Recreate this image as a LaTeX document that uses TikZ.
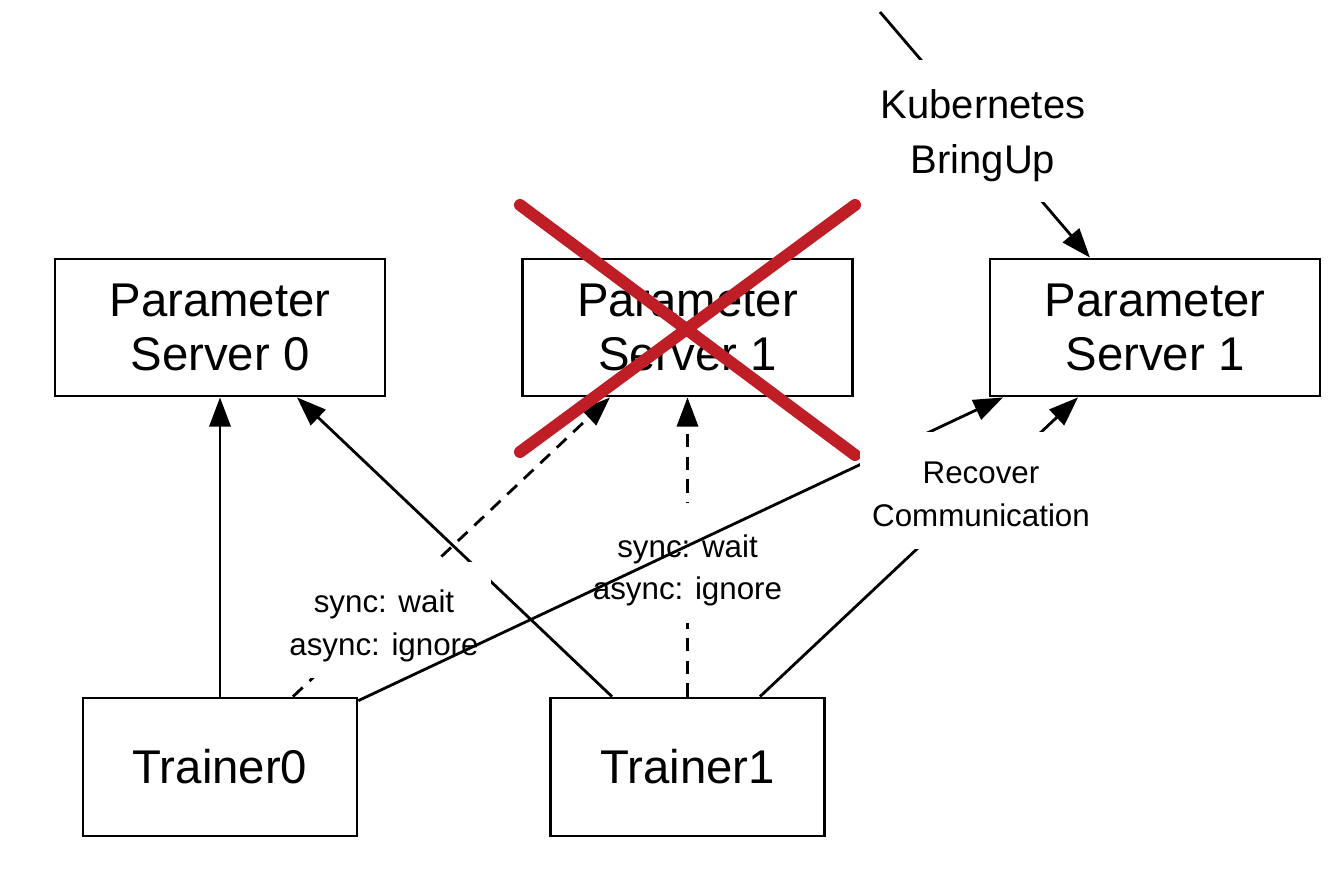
\documentclass[tikz,border=0pt]{standalone}
\usepackage{fontspec}
\setmainfont{Liberation Sans}
\usetikzlibrary{arrows.meta,calc}
\definecolor{crossred}{RGB}{192,30,38}
\begin{document}
\begin{tikzpicture}[x=0.75pt,y=-0.75pt,
  box/.style={draw,line width=2.1pt,inner sep=0pt,minimum width=247.5pt,minimum height=102.75pt,align=center,font=\fontsize{35.5}{41}\selectfont},
  tbox/.style={box,minimum width=205.5pt,minimum height=103.5pt},
  lab/.style={fill=white,inner xsep=9pt,inner ysep=0pt,align=center,font=\fontsize{23.5}{32}\selectfont},
  conn/.style={line width=2.1pt,-{Triangle[length=22pt,width=16pt]}},
  dconn/.style={conn,dash pattern=on 10pt off 7pt},
]
\useasboundingbox (0,0) rectangle (1332,892);
\node[box] (PS0) at (220,327.5) {Parameter\\Server 0};
\node[box] (PS1x) at (687.5,327.5) {Parameter\\Server 1};
\node[box] (PS1) at (1155,327.5) {Parameter\\Server 1};
\node[tbox] (T0) at (220,767) {Trainer0};
\node[tbox] (T1) at (687.5,767) {Trainer1};
\draw[conn] (T0.north) -- (PS0.south);
\draw[conn] ($(T1.north)+(-75.5,0)$) -- ($(PS0.south)+(77,0)$);
\draw[dconn] ($(T0.north)+(73,0)$) -- ($(PS1x.south)+(-77.5,0)$);
\draw[dconn] (T1.north) -- (PS1x.south);
\node[lab,minimum height=87pt] (L1) at (384,620) {\rule{0pt}{26pt}sync: wait\\async: ignore};
\node[lab,minimum height=90pt] (L2) at (687.5,563) {\rule{0pt}{28pt}sync: wait\\async: ignore};
\draw[conn] ($(T0.north east)+(0,4)$) -- ($(PS1.south)+(-152,0)$);
\draw[conn] ($(T1.north)+(72.5,0)$) -- ($(PS1.south)+(-77,0)$);
\draw[crossred,line width=9pt,line cap=round] (520,205) -- (855,455) (855,205) -- (520,452);
\node[lab,minimum height=88pt] (L3) at (981,490.5) {\rule{0pt}{22pt}Recover\\Communication};
\coordinate (K0) at (880,12);
\draw[conn] (K0) -- ($(PS1.north)+(-65,0)$);
\node[lab,font=\fontsize{30}{41}\selectfont,minimum height=106.5pt] (L4) at (983,131) {\rule{0pt}{29pt}Kubernetes\\BringUp};
\end{tikzpicture}
\end{document}
